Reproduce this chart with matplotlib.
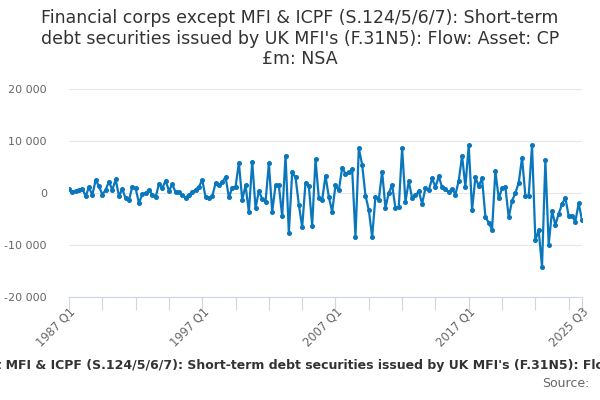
import numpy as np
import matplotlib.pyplot as plt

TITLE = ("Financial corps except MFI & ICPF (S.124/5/6/7): Short-term\n"
         "debt securities issued by UK MFI's (F.31N5): Flow: Asset: CP\n"
         "£m: NSA")
CAPTION = ("Financial corps except MFI & ICPF (S.124/5/6/7): Short-term debt securities "
           "issued by UK MFI's (F.31N5): Flow: Asset: CP £m: NSA")

# quarterly values, 1987 Q1 .. 2025 Q3 (£m)
values = [
    850, 200, 450, 650, 800, -600, 1100, -400, 2500, 1300,
    -300, 600, 2200, 550, 2600, -600, 750, -1050, -1400, 1200,
    900, -1950, -250, 0, 600, -350, -800, 1700, 900, 2400,
    400, 1650, 150, 250, -350, -900, -300, 150, 650, 1200,
    2500, -800, -1050, -650, 1900, 1600, 2050, 3100, -850, 1000,
    1200, 5800, -1300, 1500, -3700, 6000, -2900, 400, -1150, -1650,
    5700, -3600, 1450, 1450, -4500, 7200, -7650, 3950, 3000, -2250,
    -6600, 2000, 1300, -6300, 6500, -1050, -1300, 3300, -750, -3600,
    1450, 500, 4900, 3700, 4000, 4600, -8400, 8600, 5450, -500,
    -3250, -8500, -700, -1300, 4100, -2800, 0, 1550, -2950, -2650,
    8600, -1650, 2250, -950, -450, 300, -2050, 900, 550, 2800,
    1150, 3200, 1100, 700, 150, 800, -300, 2400, 7150, 1200,
    9200, -3250, 3000, 1350, 2800, -4600, -5700, -7050, 4200, -1050,
    900, 1150, -4700, -1500, 0, 1950, 6800, -550, -550, 9200,
    -9050, -7200, -14200, 6300, -9950, -3450, -6150, -4000, -2150, -900,
    -4400, -4400, -5500, -2000, -5200,
]
quarters = [f"{1987 + i // 4} Q{i % 4 + 1}" for i in range(len(values))]
label_idx = [0, 40, 80, 120, len(values) - 1]
y_ticks = [-20000, -10000, 0, 10000, 20000]
y_labels = ["-20 000", "-10 000", "0", "10 000", "20 000"]

fig = plt.figure(figsize=(6, 4), dpi=100)
ax = fig.add_axes([0.115, 0.2575, 0.855, 0.52])

x = np.arange(len(values))
ax.plot(x, values, color="#0a77bd", lw=1.6, marker="o", ms=2.6, zorder=3)

ax.set_xlim(0, len(values) - 1)
ax.set_ylim(-20000, 20000)
ax.set_yticks(y_ticks)
ax.set_yticklabels(y_labels, fontsize=8, color="#666666")
ax.tick_params(axis="y", length=0, pad=16)
ax.grid(axis="y", color="#e6e6e6", lw=0.8)
ax.set_axisbelow(True)

ax.set_xticks(list(range(0, len(values), 10)) + [len(values) - 1])
ax.set_xticklabels([])
ax.tick_params(axis="x", length=9, color="#ccd6eb", width=0.8)
for i in label_idx:
    ax.text(i, -21500, quarters[i], rotation=45, ha="right", va="top",
            rotation_mode="anchor", fontsize=8.3, color="#666666")

for s in ["top", "right", "left"]:
    ax.spines[s].set_visible(False)
ax.spines["bottom"].set_color("#ccd6eb")
ax.spines["bottom"].set_linewidth(0.8)

fig.text(0.5, 0.978, TITLE, ha="center", va="top", fontsize=12.5,
         color="#333333", linespacing=1.2)
fig.text(0.5, 0.087, CAPTION, ha="center", va="center", fontsize=9,
         fontweight="bold", color="#333333")
fig.text(0.982, 0.042, "Source:", ha="right", va="center", fontsize=9,
         color="#666666")

fig.savefig("out.png", dpi=100)
